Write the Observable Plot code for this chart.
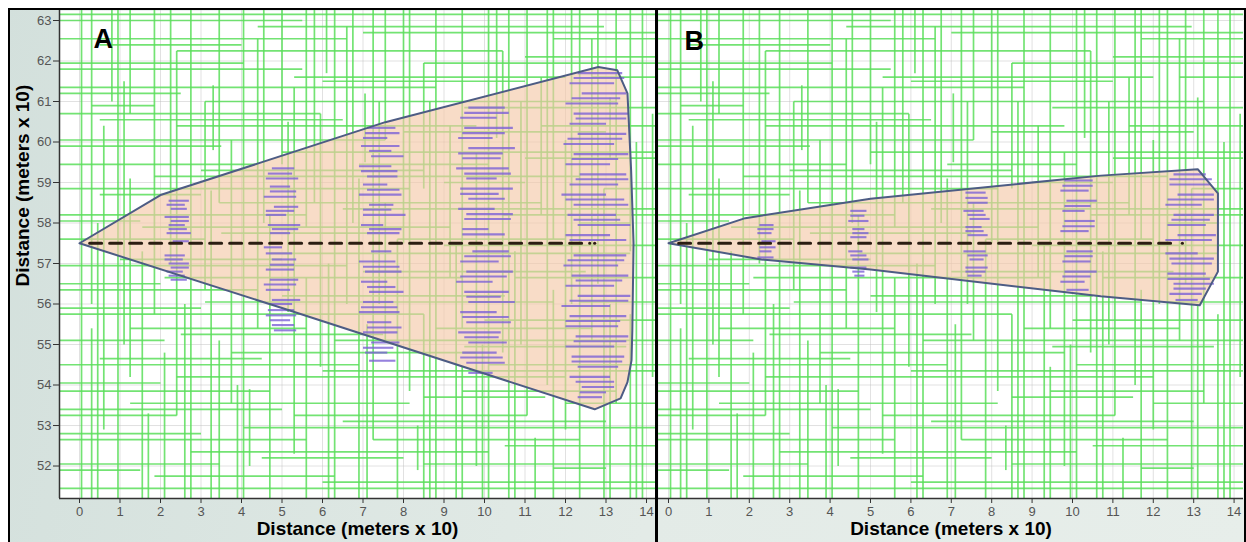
<!DOCTYPE html>
<html>
<head>
<meta charset="utf-8">
<script src="https://cdn.jsdelivr.net/npm/d3@7"></script>
<script src="https://cdn.jsdelivr.net/npm/@observablehq/plot@0.6"></script>
<style>
  body { margin: 0; background: #ffffff; }
  #fig {
    position: relative; width: 1246px; height: 542px; overflow: hidden;
    background: linear-gradient(100deg, #d3e0dc 0%, #e3ebe7 55%, #e7eeea 100%);
    font-family: Arial, "Liberation Sans", sans-serif;
  }
  #fig .panel { position: absolute; top: 0; }
  #fig .panel svg { display: block; }
  #outer {
    position: absolute; left: 8px; top: 8px; width: 1238px; height: 560px;
    border: 2px solid #000; border-bottom: none; box-sizing: border-box; pointer-events: none;
  }
  #divider { position: absolute; left: 655px; top: 8px; width: 3px; height: 540px; background: #000; }
  #whiteTop { position: absolute; left: 0; top: 0; width: 1246px; height: 8px; background: #fff; }
  #whiteLeft { position: absolute; left: 0; top: 0; width: 8px; height: 542px; background: #fff; }
</style>
</head>
<body>
<div id="fig">
  <div id="panelA" class="panel" style="left:0px"></div>
  <div id="panelB" class="panel" style="left:658px"></div>
  <div id="whiteTop"></div>
  <div id="whiteLeft"></div>
  <div id="outer"></div>
  <div id="divider"></div>
</div>
<script>
// Axis ticks (distance in meters x 10)
const xTicks = [0, 1, 2, 3, 4, 5, 6, 7, 8, 9, 10, 11, 12, 13, 14];
const yTicks = [52, 53, 54, 55, 56, 57, 58, 59, 60, 61, 62, 63];
const axisTitle = "Distance (meters x 10)";
const panelLabels = ["A", "B"];

// Landscape network: vertical segments [x, y1, y2]
const networkV = [
  [0.05,51.2,63.3],[0.3,51.2,55.4],[0.3,56.0,63.3],[0.6,52.9,60.4],[0.95,51.2,63.3],
  [1.25,54.2,59.1],[1.25,60.7,63.3],[1.55,51.2,57.3],[1.85,55.75,63.3],[2.1,51.2,54.8],
  [2.4,53.25,62.25],[2.75,51.2,63.3],[3.1,56.35,61.0],[3.45,51.2,55.1],[3.45,58.5,63.3],
  [3.75,53.55,60.05],[4.05,51.2,63.3],[4.4,55.4,62.55],[4.7,51.2,58.2],[5.0,59.45,63.3],
  [5.3,52.3,61.35],[5.6,51.2,56.65],[5.6,57.9,63.3],[5.95,54.45,60.7],[6.3,51.2,63.3],
  [6.6,56.0,62.85],[6.9,51.2,59.1],[7.25,52.65,63.3],[7.55,55.1,58.5],[7.55,60.05,63.3],
  [7.85,51.2,57.6],[8.15,53.85,63.3],[8.5,51.2,55.75],[8.5,58.85,61.95],[8.8,51.2,63.3],
  [9.15,56.65,60.4],[9.45,51.2,54.45],[9.45,55.4,63.3],[9.8,52.0,59.75],[10.1,51.2,63.3],
  [10.45,54.8,62.25],[10.75,51.2,57.3],[11.05,53.25,63.3],[11.4,58.2,61.6],[11.7,51.2,56.35],
  [11.7,57.6,63.3],[12.0,52.9,60.05],[12.35,51.2,63.3],[12.65,55.1,62.55],[12.95,51.2,58.85],
  [13.25,53.55,63.3],[13.6,51.2,55.75],[13.6,57.3,63.3],[13.9,51.2,63.3],[14.15,54.2,60.7],
  [0.8,61.0,63.3],[1.7,51.2,53.3],[3.3,59.8,61.4],[4.2,52.0,53.9],[6.1,61.7,63.3],
  [7.05,59.5,61.2],[8.35,51.9,53.0],[10.3,60.1,63.3],[11.25,51.2,52.7],[13.1,59.6,61.1],
  [0.45,51.2,58.0],[1.1,55.0,61.5],[2.25,57.0,63.3],[2.6,51.2,56.0],[3.25,51.2,58.8],
  [3.9,51.2,54.0],[4.55,58.0,63.3],[5.15,55.8,60.5],[5.8,58.5,63.3],[6.15,51.2,57.0],
  [6.75,58.0,63.3],[7.1,51.2,55.5],[7.4,56.0,61.0],[8.0,57.5,63.3],[8.65,51.2,61.0],
  [9.3,51.2,57.5],[9.95,51.2,55.0],[10.6,51.2,63.3],[10.9,55.0,61.0],[11.55,54.0,63.3],
  [12.15,56.0,63.3],[12.8,56.5,63.3],[13.1,51.2,56.0],[13.75,51.2,60.0]
];

// Landscape network: horizontal segments [y, x1, x2]
const networkH = [
  [51.45,-0.5,14.3],[51.75,1.85,6.3],[52.05,-0.5,3.45],[52.05,8.5,14.3],[52.35,2.75,10.1],
  [52.65,-0.5,5.6],[52.65,7.25,12.35],[52.95,4.05,14.3],[53.25,-0.5,2.4],[53.25,5.3,11.05],
  [53.55,1.25,8.15],[53.55,12.0,14.3],[53.85,-0.5,4.7],[53.85,9.45,13.25],[54.2,2.4,12.0],
  [54.5,-0.5,6.9],[54.5,10.1,14.3],[54.8,3.75,9.8],[55.1,-0.5,2.1],[55.1,6.3,14.3],
  [55.4,1.25,5.6],[55.4,8.8,12.65],[55.75,-0.5,8.5],[56.05,3.1,11.7],[56.05,12.35,14.3],
  [56.35,-0.5,4.4],[56.65,2.1,9.45],[56.65,10.75,14.3],[56.95,-0.5,6.6],[57.25,4.7,13.6],
  [57.6,-0.5,3.1],[57.6,7.85,12.0],[57.9,1.55,9.15],[58.2,-0.5,5.6],[58.2,10.45,14.3],
  [58.5,3.45,11.4],[58.85,-0.5,8.15],[58.85,12.95,14.3],[59.15,1.85,12.35],[59.45,-0.5,4.4],
  [59.45,6.9,10.1],[59.75,5.0,14.3],[60.05,-0.5,7.55],[60.4,2.4,9.8],[60.4,11.4,14.3],
  [60.7,-0.5,5.95],[61.0,3.1,13.25],[61.35,-0.5,8.8],[61.6,5.3,12.0],[61.6,12.65,14.3],
  [61.95,-0.5,4.05],[61.95,8.5,14.3],[62.25,2.4,10.45],[62.55,-0.5,6.6],[62.55,11.7,14.3],
  [62.85,4.4,12.95],[63.15,-0.5,14.3],[51.95,11.7,13.0],[58.0,12.35,13.6],[60.9,0.3,1.85],
  [51.6,6.0,14.3],[51.9,-0.5,1.5],[52.2,4.5,8.0],[52.5,10.5,14.3],[52.8,-0.5,3.0],
  [53.1,6.5,13.0],[53.4,-0.5,5.0],[53.7,8.5,11.5],[54.05,-0.5,2.0],[54.35,6.0,14.3],
  [54.65,0.5,4.5],[54.95,9.5,13.5],[55.25,2.5,7.5],[55.6,10.0,14.3],[55.9,-0.5,3.0],
  [56.2,5.0,10.5],[56.5,-0.5,2.0],[56.8,7.0,12.5],[57.1,1.0,5.0],[57.45,9.0,14.3],
  [57.75,3.5,7.5],[58.05,-0.5,1.5],[58.35,6.5,14.3],[58.7,0.5,3.0],[59.0,9.0,11.0],
  [59.3,3.0,8.5],[59.6,11.0,14.3],[59.9,-0.5,3.5],[60.25,8.0,13.0],[60.55,0.5,6.5],
  [60.85,9.5,14.3],[61.2,-0.5,2.5],[61.5,6.0,11.0],[61.8,-0.5,5.5],[62.1,11.0,14.3],
  [62.4,0.5,4.0],[62.7,7.0,14.3],[63.0,-0.5,5.5]
];

// Survey area outlines [x, y]
const areaA = [
  [0,57.5],[2.0,58.69],[7.55,60.49],[12.81,61.85],[13.28,61.77],[13.53,61.2],[13.62,59.3],
  [13.68,57.5],[13.65,55.35],[13.63,54.61],[13.53,54.07],[13.36,53.67],[12.72,53.4],[5.0,55.9],[0,57.5]
];
const areaB = [
  [0,57.5],[1.9,58.12],[5.0,58.6],[10.7,59.17],[13.1,59.33],[13.6,58.73],[13.6,56.8],
  [13.15,55.97],[10.7,56.19],[5.0,56.85],[2.3,57.1],[0,57.5]
];

// Centre line of each area [x, y]
const centreLine = [[0.25,57.5],[12.6,57.5]];
const centreEnd = [[12.72,57.5]];

// Transect segments [x1, x2, y]
const transectsA = [
  [2.2,2.7,58.55],[2.25,2.65,58.35],[2.1,2.7,58.15],[2.2,2.6,57.95],[2.15,2.75,57.75],[2.3,2.7,57.55],
  [2.1,2.6,57.2],[2.2,2.7,57.0],[2.15,2.55,56.8],[2.25,2.65,56.6],
  [2.15,2.6,58.45],[2.25,2.7,58.05],[2.2,2.65,57.85],[2.1,2.55,57.1],[2.25,2.7,56.9],[2.2,2.6,56.7],
  [4.75,5.3,59.35],[4.6,5.4,59.1],[4.7,5.2,58.9],[4.55,5.35,58.65],[4.8,5.4,58.4],[4.6,5.1,58.2],
  [4.65,5.45,57.95],[4.7,5.2,57.75],[4.55,5.0,57.4],[4.75,5.35,57.1],[4.6,5.3,56.85],[4.7,5.4,56.6],
  [4.6,5.2,56.35],[4.75,5.45,56.1],[4.65,5.3,55.85],[4.7,5.2,55.6],[4.8,5.35,55.35],
  [4.65,5.25,59.22],[4.7,5.35,58.78],[4.6,5.3,58.3],[4.75,5.4,57.85],[4.6,5.25,57.25],[4.7,5.3,56.97],
  [4.55,5.35,56.48],[4.7,5.25,56.0],[4.6,5.35,55.72],[4.75,5.3,55.48],
  [7.1,7.8,60.35],[7.0,7.6,60.1],[6.95,7.9,59.9],[7.2,8.0,59.65],[6.9,7.7,59.4],[7.1,7.85,59.15],
  [7.0,7.6,58.95],[6.9,7.95,58.7],[7.15,7.75,58.45],[7.0,8.05,58.2],[6.95,7.5,57.95],[7.1,7.9,57.75],
  [7.2,7.7,57.3],[6.9,7.8,57.05],[7.05,7.95,56.8],[6.95,7.6,56.55],[7.15,8.0,56.3],[7.0,7.75,56.05],
  [6.9,7.9,55.8],[7.1,7.7,55.55],[7.0,7.85,55.3],[7.2,7.9,55.05],[7.05,7.6,54.8],[7.15,7.8,54.6],
  [7.05,7.9,60.22],[7.15,7.7,59.78],[6.95,7.85,59.28],[7.1,7.9,58.82],[7.0,7.7,58.33],[7.15,7.95,57.85],
  [7.0,7.9,56.92],[7.1,7.8,56.42],[6.95,7.85,55.92],[7.1,7.95,55.42],[7.0,7.75,54.92],
  [9.6,10.5,60.85],[9.4,10.3,60.6],[9.5,10.7,60.35],[9.35,10.2,60.1],[9.6,10.75,59.85],[9.45,10.4,59.6],
  [9.3,10.6,59.35],[9.55,10.3,59.1],[9.4,10.7,58.85],[9.6,10.5,58.6],[9.35,10.25,58.35],[9.5,10.65,58.1],
  [9.45,10.1,57.85],[9.7,10.6,57.3],[9.4,10.35,57.05],[9.55,10.7,56.8],[9.3,10.2,56.55],[9.5,10.6,56.3],
  [9.6,10.75,56.05],[9.4,10.3,55.8],[9.55,10.65,55.55],[9.35,10.4,55.3],[9.6,10.55,55.05],[9.45,10.3,54.8],
  [9.55,10.5,54.55],[9.6,10.2,54.3],
  [9.5,10.6,60.72],[9.45,10.5,60.22],[9.35,10.45,59.72],[9.5,10.65,59.22],[9.4,10.35,58.72],[9.55,10.7,58.22],
  [9.45,10.5,57.72],[9.5,10.65,57.18],[9.4,10.55,56.68],[9.55,10.4,56.18],[9.45,10.6,55.68],[9.5,10.35,55.18],
  [9.4,10.45,54.68],
  [12.3,13.4,61.7],[12.1,13.2,61.45],[12.4,13.5,61.2],[12.0,13.3,60.95],[12.2,13.55,60.7],[12.1,13.0,60.45],
  [12.3,13.5,60.2],[11.95,13.2,59.95],[12.2,13.55,59.7],[12.0,13.1,59.45],[12.35,13.5,59.2],[12.1,13.3,58.95],
  [11.9,13.0,58.7],[12.2,13.55,58.45],[12.05,13.25,58.2],[12.3,13.6,57.95],[12.0,13.1,57.7],[12.2,13.5,57.2],
  [11.95,13.3,56.95],[12.15,13.55,56.7],[12.0,13.2,56.45],[12.3,13.6,56.2],[11.9,13.1,55.95],[12.1,13.5,55.7],
  [12.0,13.3,55.45],[12.25,13.55,55.2],[12.0,13.2,54.95],[12.15,13.45,54.7],[12.3,13.3,54.45],[12.1,13.1,54.2],
  [12.4,13.2,53.95],[12.3,12.9,53.7],
  [12.2,13.45,61.58],[12.15,13.35,61.08],[12.25,13.5,60.58],[12.05,13.4,60.08],[12.15,13.3,59.58],[12.25,13.55,59.08],
  [12.0,13.45,58.58],[12.2,13.35,58.08],[12.1,13.5,57.58],[12.05,13.45,57.08],[12.25,13.4,56.58],[12.1,13.55,56.08],
  [12.0,13.35,55.58],[12.2,13.5,55.08],[12.15,13.4,54.58],[12.25,13.2,54.08],[12.35,13.0,53.82]
];
const transectsB = [
  [2.25,2.6,57.95],[2.2,2.55,57.75],[2.3,2.65,57.55],[2.25,2.55,57.3],[2.2,2.6,57.15],
  [2.2,2.6,57.85],[2.25,2.65,57.4],
  [4.5,4.9,58.3],[4.45,4.95,58.05],[4.55,4.85,57.85],[4.5,4.9,57.65],[4.45,4.8,57.3],[4.55,4.95,57.1],
  [4.5,4.9,56.9],[4.6,4.85,56.7],
  [4.5,4.85,58.18],[4.55,4.95,57.75],[4.5,4.9,57.2],[4.55,4.85,56.8],
  [7.35,7.85,58.75],[7.4,7.9,58.5],[7.3,7.8,58.3],[7.45,7.95,58.1],[7.35,7.75,57.9],[7.4,7.9,57.7],
  [7.3,7.85,57.3],[7.45,7.8,57.1],[7.35,7.9,56.9],[7.4,7.75,56.7],
  [7.35,7.9,58.62],[7.4,7.85,58.2],[7.35,7.8,57.8],[7.4,7.9,57.2],[7.35,7.85,56.8],
  [9.8,10.5,59.05],[9.7,10.4,58.8],[9.85,10.6,58.55],[9.75,10.3,58.3],[9.8,10.55,58.05],[9.7,10.4,57.8],
  [9.85,10.5,57.3],[9.75,10.45,57.05],[9.8,10.6,56.8],[9.7,10.3,56.55],[9.85,10.4,56.35],
  [9.75,10.5,58.92],[9.8,10.45,58.42],[9.75,10.55,57.92],[9.8,10.5,57.18],[9.75,10.45,56.68],
  [12.5,13.3,59.2],[12.4,13.4,58.95],[12.6,13.5,58.7],[12.3,13.2,58.45],[12.5,13.5,58.2],[12.35,13.3,57.95],
  [12.6,13.55,57.7],[12.3,13.1,57.25],[12.45,13.45,57.0],[12.35,13.3,56.75],[12.5,13.5,56.5],[12.4,13.2,56.25],
  [12.55,13.1,56.1],
  [12.4,13.45,59.08],[12.35,13.5,58.58],[12.45,13.4,58.08],[12.3,13.45,57.58],[12.4,13.5,57.12],[12.35,13.4,56.62],
  [12.5,13.3,56.38]
];

const yDomain = [51.198, 63.247];

function panel({width, marginLeft, marginRight, xDomain, area, transects, label, labelDx, labelDy, showY}) {
  const marks = [
    Plot.frame({fill: "white", stroke: null}),
    Plot.gridX(xTicks, {stroke: "#bdbdbd", strokeOpacity: 0.45}),
    Plot.gridY(yTicks, {stroke: "#bdbdbd", strokeOpacity: 0.45}),
    Plot.link(networkV, {x1: d => d[0], x2: d => d[0], y1: d => d[1], y2: d => d[2],
      stroke: "#5ade5a", strokeWidth: 1.7, strokeOpacity: 0.85, clip: true}),
    Plot.link(networkH, {y1: d => d[0], y2: d => d[0], x1: d => d[1], x2: d => d[2],
      stroke: "#5ade5a", strokeWidth: 1.7, strokeOpacity: 0.85, clip: true}),
    Plot.line(area, {x: d => d[0], y: d => d[1], fill: "#f4c8a8", fillOpacity: 0.64, stroke: null, curve: "linear"}),
    Plot.link(transects, {x1: d => d[0], x2: d => d[1], y1: d => d[2], y2: d => d[2],
      stroke: "#7c62d6", strokeWidth: 2.1, strokeOpacity: 0.8}),
    Plot.line(area, {x: d => d[0], y: d => d[1], stroke: "#4d5c84", strokeWidth: 2, strokeLinejoin: "round"}),
    Plot.line(centreLine, {x: d => d[0], y: d => d[1], stroke: "#2b1d12", strokeWidth: 3, strokeDasharray: "12,8"}),
    Plot.dot(centreEnd, {x: d => d[0], y: d => d[1], r: 1.6, fill: "#2b1d12"}),
    Plot.ruleY([yDomain[0]], {stroke: "#333", strokeWidth: 1.5}),
    Plot.axisX(xTicks, {tickSize: 5, tickPadding: 3, fontSize: 13, fill: "#555", stroke: "#333", label: null}),
    Plot.text([label], {frameAnchor: "top-left", dx: labelDx, dy: labelDy, fontSize: 27,
      fontWeight: "bold", fill: "#000"}),
    Plot.text([axisTitle], {frameAnchor: "bottom", dy: 30, lineAnchor: "middle", fontSize: 19,
      fontWeight: "bold", fill: "#000"})
  ];
  if (showY) {
    marks.push(
      Plot.ruleX([xDomain[0]], {stroke: "#333", strokeWidth: 1.5}),
      Plot.axisY(yTicks, {tickSize: 6, tickPadding: 2, fontSize: 13, fill: "#555", stroke: "#333", label: null}),
      Plot.text([axisTitle], {frameAnchor: "left", rotate: -90, dx: -37, dy: 32, fontSize: 19,
        fontWeight: "bold", fill: "#000"})
    );
  }
  return Plot.plot({
    width, height: 542,
    marginLeft, marginRight, marginTop: 10, marginBottom: 44,
    x: {domain: xDomain, axis: null},
    y: {domain: yDomain, axis: null},
    style: {background: "transparent", fontFamily: "Arial, 'Liberation Sans', sans-serif", overflow: "visible"},
    marks
  });
}

document.getElementById("panelA").append(panel({
  width: 655, marginLeft: 59, marginRight: 0, xDomain: [-0.494, 14.222],
  area: areaA, transects: transectsA, label: panelLabels[0], labelDx: 34, labelDy: 18, showY: true
}));
document.getElementById("panelB").append(panel({
  width: 588, marginLeft: 0, marginRight: 3, xDomain: [-0.2475, 14.233],
  area: areaB, transects: transectsB, label: panelLabels[1], labelDx: 26, labelDy: 20, showY: false
}));
</script>
</body>
</html>
